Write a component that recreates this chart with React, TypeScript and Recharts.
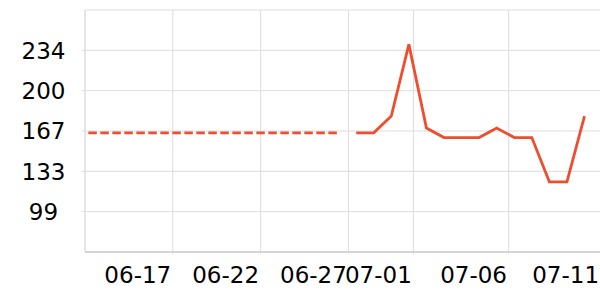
import { LineChart, Line, XAxis, YAxis, CartesianGrid } from "recharts";

// x is in days counted from 06-27
const tickDays = [-10, -5, 0, 3.7, 9.12, 14.36];
const tickLabels = ["06-17", "06-22", "06-27", "07-01", "07-06", "07-11"];

const yTicks = [99, 132.75, 166.5, 200.25, 234];

const baselineDays = [-14.81, -0.6];
const baselineValues = [165, 165];

const currentDays = [
  0.44, 1.44, 2.44, 3.44, 4.44, 5.44, 6.44, 7.44, 8.44, 9.44, 10.44, 11.44,
  12.44, 13.44,
];
const currentValues = [
  165, 165, 179, 239, 169, 161, 161, 161, 169, 161, 161, 124, 124, 179,
];

const baselineData = baselineDays.map((d, i) => ({ day: d, value: baselineValues[i] }));
const currentData = currentDays.map((d, i) => ({ day: d, value: currentValues[i] }));

const LINE_COLOR = "#ee4d2e";
const FONT = "'DejaVu Sans', sans-serif";

const XTick = (props: any) => {
  const { x, y, payload } = props;
  const idx = tickDays.indexOf(payload.value);
  return (
    <text
      x={x - 1.6}
      y={y + 29}
      textAnchor="end"
      fontFamily={FONT}
      fontSize={23}
      fill="#000"
    >
      {tickLabels[idx]}
    </text>
  );
};

const YTick = (props: any) => {
  const { y, payload } = props;
  return (
    <text
      x={43.5}
      y={y}
      dy="0.36em"
      textAnchor="middle"
      fontFamily={FONT}
      fontSize={23}
      fill="#000"
    >
      {Math.round(payload.value)}
    </text>
  );
};

export default function App() {
  return (
    <div
      style={{
        position: "absolute",
        left: 0,
        top: 0,
        width: 600,
        height: 300,
        overflow: "hidden",
        background: "#fff",
      }}
    >
      <LineChart
        width={604}
        height={300}
        margin={{ top: 10, right: 0, left: 0, bottom: 0 }}
      >
        <CartesianGrid stroke="#dddddd" strokeWidth={1} />
        <XAxis
          type="number"
          dataKey="day"
          domain={[-15, 14.55]}
          ticks={tickDays}
          allowDataOverflow
          height={48}
          tickSize={2}
          tickMargin={0}
          axisLine={{ stroke: "#bbbbbb" }}
          tickLine={{ stroke: "#dddddd" }}
          tick={<XTick />}
          interval={0}
        />
        <YAxis
          type="number"
          domain={[65.25, 267.75]}
          ticks={yTicks}
          allowDataOverflow
          width={85}
          tickSize={3}
          axisLine={{ stroke: "#dddddd" }}
          tickLine={{ stroke: "#dddddd" }}
          tick={<YTick />}
          interval={0}
        />
        <Line
          data={baselineData}
          dataKey="value"
          stroke={LINE_COLOR}
          strokeWidth={2.8}
          strokeDasharray="8.5 3.5"
          dot={false}
          activeDot={false}
          isAnimationActive={false}
        />
        <Line
          data={currentData}
          dataKey="value"
          stroke={LINE_COLOR}
          strokeWidth={2.8}
          dot={false}
          activeDot={false}
          isAnimationActive={false}
        />
      </LineChart>
    </div>
  );
}
